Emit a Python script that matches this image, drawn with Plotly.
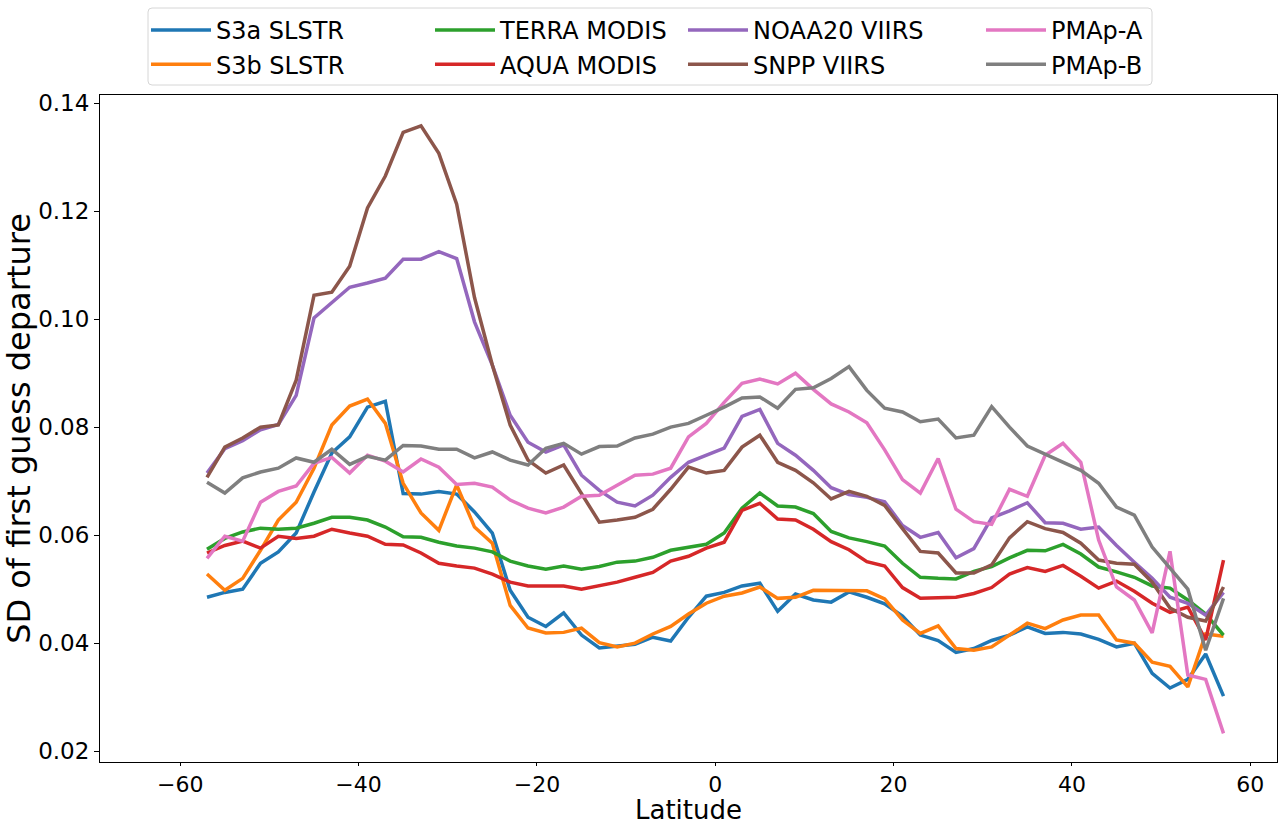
import plotly.graph_objects as go

latitude = list(range(-57, 58, 2))

s3a_slstr = [0.0485, 0.0494, 0.0500, 0.0548, 0.0569, 0.0604, 0.0680, 0.0752, 0.0782, 0.0837,
             0.0848, 0.0677, 0.0676, 0.0681, 0.0676, 0.0643, 0.0604, 0.0498, 0.0448, 0.0431,
             0.0456, 0.0415, 0.0391, 0.0394, 0.0398, 0.0411, 0.0404, 0.0448, 0.0487, 0.0494,
             0.0506, 0.0511, 0.0459, 0.0491, 0.0480, 0.0476, 0.0495, 0.0485, 0.0473, 0.0450,
             0.0415, 0.0405, 0.0383, 0.0390, 0.0405, 0.0415, 0.0430, 0.0418, 0.0420, 0.0417,
             0.0407, 0.0393, 0.0400, 0.0344, 0.0317, 0.0333, 0.0380, 0.0302]
s3b_slstr = [0.0528, 0.0498, 0.0520, 0.0572, 0.0628, 0.0661, 0.0724, 0.0804, 0.0839, 0.0852,
             0.0807, 0.0696, 0.0641, 0.0609, 0.0693, 0.0615, 0.0585, 0.0470, 0.0428, 0.0419,
             0.0420, 0.0428, 0.0401, 0.0393, 0.0400, 0.0417, 0.0431, 0.0454, 0.0474, 0.0487,
             0.0493, 0.0504, 0.0483, 0.0485, 0.0498, 0.0498, 0.0497, 0.0497, 0.0482, 0.0443,
             0.0418, 0.0432, 0.0390, 0.0387, 0.0393, 0.0415, 0.0437, 0.0427, 0.0443, 0.0452,
             0.0452, 0.0406, 0.0400, 0.0365, 0.0357, 0.0319, 0.0417, 0.0413]
terra_modis = [0.0574, 0.0594, 0.0606, 0.0613, 0.0611, 0.0613, 0.0622, 0.0633, 0.0633, 0.0628,
               0.0615, 0.0597, 0.0596, 0.0587, 0.0580, 0.0576, 0.0569, 0.0552, 0.0543, 0.0537,
               0.0543, 0.0537, 0.0542, 0.0550, 0.0552, 0.0559, 0.0572, 0.0578, 0.0583, 0.0604,
               0.0650, 0.0678, 0.0654, 0.0652, 0.0640, 0.0607, 0.0595, 0.0588, 0.0580, 0.0548,
               0.0522, 0.0520, 0.0519, 0.0533, 0.0542, 0.0558, 0.0572, 0.0571, 0.0583, 0.0565,
               0.0541, 0.0532, 0.0522, 0.0506, 0.0502, 0.0480, 0.0454, 0.0415]
aqua_modis = [0.0567, 0.0581, 0.0589, 0.0576, 0.0598, 0.0594, 0.0598, 0.0611, 0.0604, 0.0598,
              0.0583, 0.0582, 0.0567, 0.0548, 0.0543, 0.0539, 0.0528, 0.0513, 0.0506, 0.0506,
              0.0506, 0.0500, 0.0506, 0.0513, 0.0522, 0.0531, 0.0552, 0.0561, 0.0576, 0.0587,
              0.0646, 0.0659, 0.0630, 0.0628, 0.0611, 0.0588, 0.0573, 0.0551, 0.0543, 0.0503,
              0.0483, 0.0484, 0.0485, 0.0492, 0.0503, 0.0528, 0.0540, 0.0533, 0.0544, 0.0524,
              0.0502, 0.0515, 0.0496, 0.0474, 0.0457, 0.0467, 0.0406, 0.0554]
noaa20_viirs = [0.0715, 0.0760, 0.0775, 0.0795, 0.0805, 0.0859, 0.1002, 0.1031, 0.1059, 0.1067,
                0.1076, 0.1111, 0.1111, 0.1125, 0.1112, 0.0995, 0.0915, 0.0822, 0.0772, 0.0754,
                0.0767, 0.0711, 0.0683, 0.0661, 0.0654, 0.0674, 0.0707, 0.0735, 0.0748, 0.0761,
                0.0820, 0.0833, 0.0770, 0.0748, 0.0720, 0.0688, 0.0675, 0.0670, 0.0662, 0.0618,
                0.0596, 0.0605, 0.0558, 0.0575, 0.0632, 0.0645, 0.0660, 0.0623, 0.0622, 0.0611,
                0.0615, 0.0581, 0.0550, 0.0520, 0.0485, 0.0474, 0.0452, 0.0494]
snpp_viirs = [0.0707, 0.0763, 0.0780, 0.0800, 0.0804, 0.0887, 0.1044, 0.1050, 0.1098, 0.1206,
              0.1265, 0.1346, 0.1358, 0.1307, 0.1213, 0.1040, 0.0915, 0.0804, 0.0739, 0.0715,
              0.0730, 0.0678, 0.0624, 0.0628, 0.0633, 0.0648, 0.0685, 0.0726, 0.0715, 0.0720,
              0.0763, 0.0785, 0.0735, 0.0720, 0.0697, 0.0667, 0.0681, 0.0672, 0.0655, 0.0612,
              0.0570, 0.0567, 0.0530, 0.0530, 0.0545, 0.0595, 0.0625, 0.0612, 0.0605, 0.0585,
              0.0554, 0.0548, 0.0546, 0.0513, 0.0465, 0.0448, 0.0441, 0.0504]
pmap_a = [0.0557, 0.0598, 0.0589, 0.0661, 0.0681, 0.0691, 0.0733, 0.0744, 0.0715, 0.0748,
          0.0737, 0.0717, 0.0741, 0.0726, 0.0694, 0.0696, 0.0689, 0.0665, 0.0650, 0.0641,
          0.0652, 0.0672, 0.0674, 0.0693, 0.0711, 0.0713, 0.0724, 0.0782, 0.0807, 0.0846,
          0.0881, 0.0889, 0.0880, 0.0900, 0.0870, 0.0843, 0.0828, 0.0808, 0.0758, 0.0703,
          0.0678, 0.0742, 0.0648, 0.0625, 0.0620, 0.0685, 0.0672, 0.0748, 0.0770, 0.0735,
          0.0591, 0.0504, 0.0480, 0.0419, 0.0570, 0.0341, 0.0333, 0.0233]
pmap_b = [0.0698, 0.0678, 0.0706, 0.0717, 0.0724, 0.0743, 0.0735, 0.0759, 0.0731, 0.0746,
          0.0739, 0.0766, 0.0765, 0.0759, 0.0759, 0.0743, 0.0754, 0.0739, 0.0730, 0.0761,
          0.0770, 0.0750, 0.0764, 0.0765, 0.0780, 0.0787, 0.0800, 0.0807, 0.0822, 0.0837,
          0.0854, 0.0856, 0.0835, 0.0870, 0.0873, 0.0890, 0.0912, 0.0868, 0.0835, 0.0828,
          0.0810, 0.0815, 0.0780, 0.0785, 0.0838, 0.0800, 0.0765, 0.0750, 0.0735, 0.0720,
          0.0696, 0.0652, 0.0637, 0.0578, 0.0539, 0.0500, 0.0387, 0.0483]

# (name, values, colour, legend column)
series = [
    ("S3a SLSTR", s3a_slstr, "#1f77b4", "legend"),
    ("S3b SLSTR", s3b_slstr, "#ff7f0e", "legend"),
    ("TERRA MODIS", terra_modis, "#2ca02c", "legend2"),
    ("AQUA MODIS", aqua_modis, "#d62728", "legend2"),
    ("NOAA20 VIIRS", noaa20_viirs, "#9467bd", "legend3"),
    ("SNPP VIIRS", snpp_viirs, "#8c564b", "legend3"),
    ("PMAp-A", pmap_a, "#e377c2", "legend4"),
    ("PMAp-B", pmap_b, "#7f7f7f", "legend4"),
]

fig = go.Figure()
for name, vals, color, leg in series:
    fig.add_trace(go.Scatter(
        x=latitude, y=vals, mode="lines", name=name,
        line=dict(color=color, width=3.5), legend=leg,
    ))

font_family = "DejaVu Sans"
axis_common = dict(
    showline=True, linecolor="black", linewidth=1, mirror=True,
    ticks="outside", tickcolor="black", tickwidth=1,
    showgrid=False, zeroline=False,
)

L, R, T, B = 100, 2, 95, 62
W, H = 1279, 824
pw, ph = W - L - R, H - T - B


def px_x(p):
    return (p - L) / pw


def px_y(p):
    return (H - B - p) / ph


def legend_at(xpx):
    return dict(
        orientation="v", x=px_x(xpx), xanchor="left", y=px_y(8), yanchor="top",
        font=dict(size=24, family=font_family, color="black"),
        bgcolor="rgba(0,0,0,0)", borderwidth=0, itemwidth=60,
        traceorder="normal", tracegroupgap=0,
    )


# rounded legend frame
x0, x1, y0, y1 = px_x(148), px_x(1152), px_y(85), px_y(8)
rx = 4 / pw
ry = 4 / ph
frame_path = (
    f"M {x0 + rx},{y1} L {x1 - rx},{y1} Q {x1},{y1} {x1},{y1 - ry} "
    f"L {x1},{y0 + ry} Q {x1},{y0} {x1 - rx},{y0} L {x0 + rx},{y0} "
    f"Q {x0},{y0} {x0},{y0 + ry} L {x0},{y1 - ry} Q {x0},{y1} {x0 + rx},{y1} Z"
)

fig.update_layout(
    width=W, height=H,
    margin=dict(l=L, r=R, t=T, b=B, autoexpand=False),
    paper_bgcolor="white", plot_bgcolor="white",
    font=dict(family=font_family, color="black"),
    xaxis=dict(range=[-69, 63], tickvals=[-60, -40, -20, 0, 20, 40, 60],
               ticktext=["\u221260", "\u221240", "\u221220", "0", "20", "40", "60"],
               ticklen=3, tickfont=dict(size=22, color="black", family=font_family),
               **axis_common),
    yaxis=dict(range=[0.018, 0.1415], tickvals=[0.02, 0.04, 0.06, 0.08, 0.10, 0.12, 0.14],
               ticktext=["0.02", "0.04", "0.06", "0.08", "0.10", "0.12", "0.14"],
               ticklen=5, tickfont=dict(size=23, color="black", family=font_family),
               title=dict(text="SD of first guess departure", font=dict(size=32), standoff=0),
               **axis_common),
    legend=legend_at(146),
    legend2=legend_at(430),
    legend3=legend_at(683),
    legend4=legend_at(981),
    annotations=[dict(text="Latitude", xref="paper", yref="paper", x=0.5, y=px_y(826),
                      xanchor="center", yanchor="bottom", showarrow=False, borderpad=0,
                      font=dict(size=26, family=font_family, color="black"))],
    shapes=[dict(type="path", path=frame_path, xref="paper", yref="paper",
                 line=dict(color="#d6d6d6", width=1), fillcolor="rgba(255,255,255,0.8)",
                 layer="below")],
)

fig.write_html("out.html", config={"displayModeBar": False},
               post_script="document.body.style.margin='0';")
